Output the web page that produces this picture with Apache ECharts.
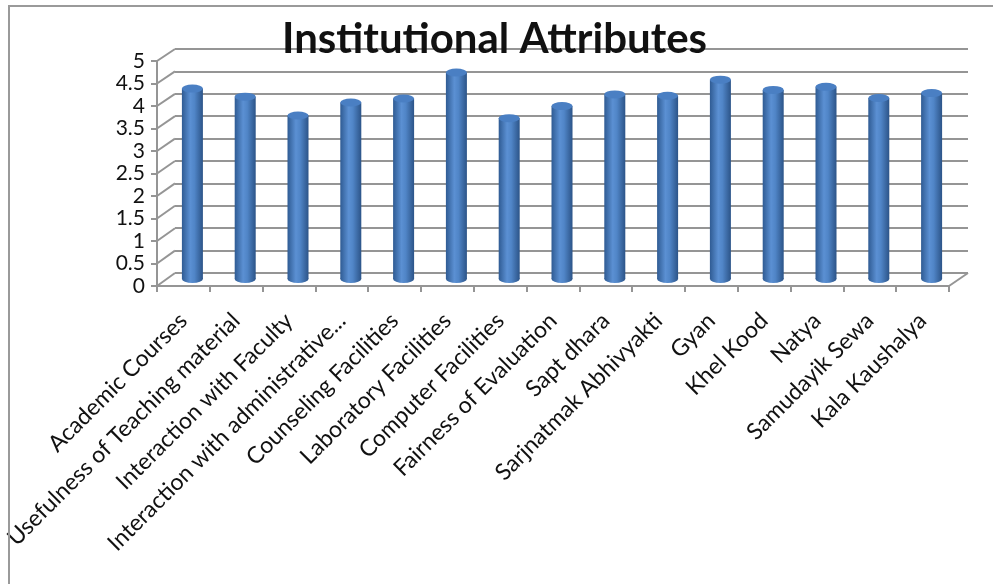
<!DOCTYPE html>
<html lang="en">

<head>
    <meta charset="UTF-8">
    <title>Institutional Attributes</title>
    <script src="https://cdn.jsdelivr.net/npm/echarts@6/dist/echarts.min.js"></script>
    <style>
        * {
            margin: 0;
            padding: 0;
        }

        body {
            background: #fff;
        }

        #main {
            position: absolute;
            left: 0;
            top: 0;
            width: 993px;
            height: 584px;
        }

        #frame {
            position: absolute;
            left: 8px;
            top: 5px;
            width: 985px;
            height: 579px;
            border-left: 2px solid #9a9a9a;
            border-top: 2px solid #9a9a9a;
            pointer-events: none;
        }
    </style>
</head>

<body>
    <div id="main"></div>
    <div id="frame"></div>
    <script>
        var categories = ['Academic Courses', 'Usefulness of Teaching material', 'Interaction with Faculty',
            'Interaction with administrative...', 'Counseling Facilities', 'Laboratory Facilities',
            'Computer Facilities', 'Fairness of Evaluation', 'Sapt dhara', 'Sarjnatmak Abhivyakti',
            'Gyan', 'Khel Kood', 'Natya', 'Samudayik Sewa', 'Kala Kaushalya'];
        var scores = [4.25, 4.07, 3.65, 3.94, 4.03, 4.61, 3.59, 3.86, 4.12, 4.09, 4.45, 4.22, 4.29, 4.04, 4.15];
        var yTicks = [0, 0.5, 1, 1.5, 2, 2.5, 3, 3.5, 4, 4.5, 5];

        var font = 'Lato, "Open Sans", sans-serif';
        var gridColor = '#959595';

        // front plane (axes), back wall (gridlines), middle (bars)
        var front = { left: 157, right: 44, top: 61, bottom: 298 };
        var back = { left: 175, right: 25, top: 49, bottom: 311 };
        var mid = { left: 166, right: 35, top: 55, bottom: 305 };

        var chart = echarts.init(document.getElementById('main'));

        var barBody = new echarts.graphic.LinearGradient(0, 0, 1, 0, [
            { offset: 0, color: '#2f5b93' },
            { offset: 0.4, color: '#5b90d3' },
            { offset: 0.6, color: '#5085c7' },
            { offset: 1, color: '#2c5488' }
        ]);

        var option = {
            backgroundColor: '#fff',
            animation: false,
            title: {
                text: 'Institutional Attributes',
                left: 277,
                top: 13,
                textStyle: {
                    fontFamily: font,
                    fontWeight: 'bold',
                    fontSize: 42,
                    color: '#111'
                }
            },
            grid: [
                Object.assign({}, back),
                Object.assign({}, front),
                Object.assign({}, mid)
            ],
            xAxis: [
                { gridIndex: 0, type: 'category', data: categories, show: false },
                {
                    gridIndex: 1, type: 'category', data: categories,
                    axisLine: { lineStyle: { color: gridColor, width: 2 } },
                    axisTick: { show: true, length: 6, lineStyle: { color: gridColor, width: 2 } },
                    axisLabel: {
                        interval: 0, rotate: 45, margin: 31,
                        fontFamily: font, fontSize: 23, color: '#111'
                    }
                },
                { gridIndex: 2, type: 'category', data: categories, show: false }
            ],
            yAxis: [
                {
                    gridIndex: 0, type: 'value', min: 0, max: 5, interval: 0.5,
                    axisLine: { show: false }, axisTick: { show: false }, axisLabel: { show: false },
                    splitLine: { lineStyle: { color: gridColor, width: 2 } }
                },
                {
                    gridIndex: 1, type: 'value', min: 0, max: 5, interval: 0.5,
                    axisLine: { show: true, lineStyle: { color: gridColor, width: 2 } },
                    axisTick: { show: true, length: 6, lineStyle: { color: gridColor, width: 2 } },
                    splitLine: { show: false },
                    axisLabel: { margin: 12, fontFamily: font, fontSize: 21, color: '#111' }
                },
                { gridIndex: 2, type: 'value', min: 0, max: 5, show: false }
            ],
            series: [
                {
                    type: 'bar',
                    xAxisIndex: 2, yAxisIndex: 2,
                    data: scores,
                    barWidth: 21,
                    itemStyle: { color: barBody }
                },
                {
                    // top ellipse of the cylinders
                    type: 'pictorialBar',
                    xAxisIndex: 2, yAxisIndex: 2,
                    data: scores,
                    symbol: 'circle',
                    symbolSize: [21, 8],
                    symbolPosition: 'end',
                    symbolOffset: [0, '-50%'],
                    itemStyle: { color: '#4a7fc3' },
                    z: 3
                },
                {
                    // bottom ellipse of the cylinders
                    type: 'pictorialBar',
                    xAxisIndex: 2, yAxisIndex: 2,
                    data: scores,
                    symbol: 'circle',
                    symbolSize: [21, 8],
                    symbolPosition: 'start',
                    symbolOffset: [0, '50%'],
                    itemStyle: { color: barBody },
                    z: 1
                }
            ]
        };
        chart.setOption(option);

        // diagonal lines joining the front axes to the back wall
        var backLeft = back.left, frontLeft = front.left;
        var backRight = 993 - back.right, frontRight = 993 - front.right;
        var lines = yTicks.map(function (v) {
            var yf = chart.convertToPixel({ yAxisIndex: 1 }, v);
            var yb = chart.convertToPixel({ yAxisIndex: 0 }, v);
            return {
                type: 'line',
                shape: { x1: frontLeft, y1: yf, x2: backLeft, y2: yb },
                style: { stroke: gridColor, lineWidth: 2 }
            };
        });
        var y0f = chart.convertToPixel({ yAxisIndex: 1 }, 0);
        var y0b = chart.convertToPixel({ yAxisIndex: 0 }, 0);
        lines.push({
            type: 'line',
            shape: { x1: frontRight, y1: y0f, x2: backRight, y2: y0b },
            style: { stroke: gridColor, lineWidth: 2 }
        });
        chart.setOption({ graphic: lines });
    </script>
</body>

</html>
